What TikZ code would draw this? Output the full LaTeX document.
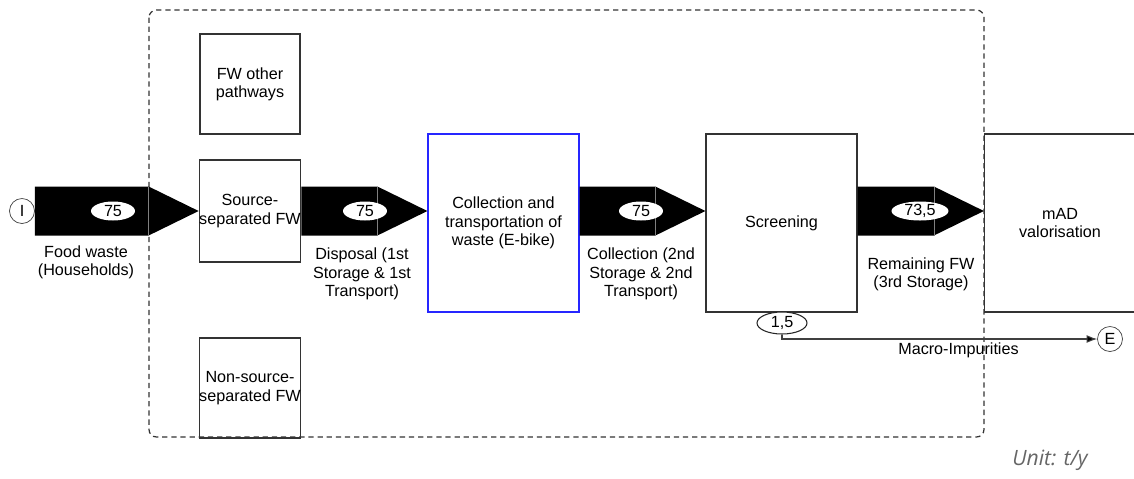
\documentclass[tikz,border=0pt]{standalone}
\usepackage{fontspec}
\setmainfont{Liberation Sans}
\newfontfamily\unitfont{Open Sans}
\usetikzlibrary{calc,shapes.geometric,arrows.meta}

\newcommand{\fatflow}[2]{%
  \fill ($(#1.east |- in)+(0,24.5)$) -- ($(#2.west |- in)+(-50,24.5)$)
    -- (#2.west |- in) -- ($(#2.west |- in)+(-50,-24.5)$)
    -- ($(#1.east |- in)+(0,-24.5)$) -- cycle;
  \draw[gray, thin] ($(#2.west |- in)+(-50,24.5)$)
    -- ($(#2.west |- in)+(-50,-24.5)$);}

\begin{document}
\begin{tikzpicture}[x=0.02cm, y=-0.02cm,
    font=\fontsize{9.2}{10.4}\selectfont,
    box/.style={draw=black!80, line width=0.7pt, align=center,
      minimum width=2cm, minimum height=2cm, inner sep=0pt},
    bigbox/.style={box, minimum width=3.02cm, minimum height=3.56cm},
    qty/.style={ellipse, fill=white, inner sep=0pt,
      minimum width=0.88cm, minimum height=0.38cm},
    term/.style={draw=black!75, circle, minimum size=0.5cm, inner sep=0pt},
    flowtext/.style={align=center, inner sep=0pt}]
  \useasboundingbox (0,0) rectangle (1134,478);
  \draw[black!80, line width=0.7pt, dash pattern=on 3pt off 2.2pt,
    rounded corners=0.15cm] (149,10) rectangle (984,437);

  \node[box] (ofw) at (250,84) {FW other\\pathways};
  \node[box, minimum height=2.04cm] (sfw) at (250,211) {Source-\\separated FW};
  \node[box] (nfw) at (250,388) {Non-source-\\separated FW};
  \node[bigbox, draw=blue!85] (col) at (503.5,223)
    {Collection and\\transportation of\\waste (E-bike)};
  \node[bigbox] (scr) at (781.5,223) {Screening};
  \node[bigbox] (mad) at (1060,223) {mAD\\valorisation};
  \node[term] (in) at (22,211) {I};
  \node[term] (ex) at (1110,339) {E};

  \fatflow{in}{sfw}
  \fatflow{sfw}{col}
  \fatflow{col}{scr}
  \fatflow{scr}{mad}

  \node[qty] (q1) at (113,211) {75};
  \node[qty] (q2) at (365,211) {75};
  \node[qty] (q3) at (641,211) {75};
  \node[qty, minimum width=1.14cm] (q4) at (920,211) {73,5};
  \node[qty, draw=black!85, line width=0.6pt, minimum width=1cm,
    minimum height=0.44cm] (q5) at (782,323) {1,5};

  \node[flowtext] (t1) at (86,262) {Food waste\\(Households)};
  \node[flowtext] (t2) at (362,274) {Disposal (1st\\Storage \& 1st\\Transport)};
  \node[flowtext] (t3) at (641,274) {Collection (2nd\\Storage \& 2nd\\Transport)};
  \node[flowtext] (t4) at (921,274) {Remaining FW\\(3rd Storage)};

  \draw[black!75, line width=0.6pt, -{Latex[length=6pt,width=4.5pt,fill=black]}]
    (q5.south) |- node[pos=0.78, below=2pt, inner sep=0pt, text=black]
    {Macro-Impurities} (ex.west);

  \node[text=black!60, font=\unitfont\itshape\fontsize{12}{14}\selectfont]
    (unit) at (1050,460) {Unit: t/y};
\end{tikzpicture}
\end{document}
